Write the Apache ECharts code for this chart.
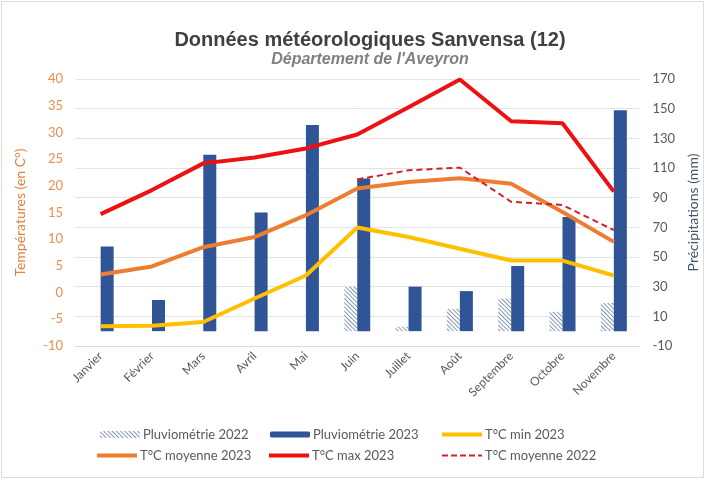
<!DOCTYPE html>
<html>
<head>
<meta charset="utf-8">
<script src="https://cdn.jsdelivr.net/npm/echarts@6/dist/echarts.min.js"></script>
<style>
  html, body { margin: 0; padding: 0; background: #fff; }
  #main { width: 708px; height: 481px; }
</style>
</head>
<body>
<div id="main"></div>
<script>
var months = ['Janvier', 'Février', 'Mars', 'Avril', 'Mai', 'Juin', 'Juillet', 'Août', 'Septembre', 'Octobre', 'Novembre'];
var pluvio2022 = [null, null, null, null, null, 30, 3, 15, 22, 13, 19];
var pluvio2023 = [57, 21, 119, 80, 139, 103, 30, 27, 44, 77, 149];
var tMin2023 = [-6.3, -6.2, -5.5, -1.1, 3.2, 12.2, 10.4, 8.2, 6, 6, 3.2];
var tMoy2023 = [3.4, 4.9, 8.5, 10.4, 14.5, 19.5, 20.7, 21.4, 20.4, 15.1, 9.5];
var tMax2023 = [14.7, 19.2, 24.2, 25.3, 27, 29.6, 34.7, 39.9, 32.1, 31.7, 18.9];
var tMoy2022 = [null, null, null, null, null, 21.2, 22.9, 23.4, 17, 16.4, 11.7];

var FONT = 'Lato';
var LINE_ICON = 'rect';
var DASH_ICON = 'path://M0,0h6v2h-6z M9,0h6v2h-6z M18,0h6v2h-6z M27,0h6v2h-6z M36,0h4v2h-4z';
var chart = echarts.init(document.getElementById('main'));

// one legend per item so each sits at its own spot
function legendAt(name, left, top, h, icon) {
    var lg = {
        data: [name],
        left: left,
        top: top,
        padding: 0,
        itemWidth: 40,
        itemHeight: h,
        itemGap: 4,
        textStyle: { color: '#595959', fontSize: 13, fontFamily: FONT, padding: [0, 0, 0, -2] }
    };
    if (icon) lg.icon = icon;
    return lg;
}

var option = {
    backgroundColor: '#fff',
    animation: false,
    title: {
        text: 'Données météorologiques Sanvensa (12)',
        subtext: "Département de l'Aveyron",
        left: 365,
        top: 25,
        textAlign: 'center',
        itemGap: 2,
        textStyle: { fontFamily: 'Liberation Sans', fontSize: 20, fontWeight: 'bold', color: '#404040' },
        subtextStyle: { fontFamily: 'Liberation Sans', fontSize: 16, fontWeight: 'bold', fontStyle: 'italic', color: '#808080' }
    },
    legend: [
        legendAt('Pluviométrie 2022', 100, 428, 7),
        legendAt('Pluviométrie 2023', 270, 428, 6),
        legendAt('T°C min 2023', 442, 428, 4, LINE_ICON),
        legendAt('T°C moyenne 2023', 97, 449, 4, LINE_ICON),
        legendAt('T°C max 2023', 269, 449, 4, LINE_ICON),
        legendAt('T°C moyenne 2022', 442, 449, 2, DASH_ICON)
    ],
    grid: { left: 75, right: 66, top: 79, bottom: 135 },
    xAxis: {
        type: 'category',
        data: months,
        axisLine: { onZero: false, lineStyle: { color: '#d9d9d9' } },
        axisTick: { show: false },
        axisLabel: { rotate: 45, color: '#595959', fontSize: 12, fontFamily: FONT, margin: 8 }
    },
    yAxis: [
        {
            type: 'value',
            min: -10,
            max: 40,
            interval: 5,
            name: 'Températures (en C°)',
            nameLocation: 'middle',
            nameGap: 48,
            nameTextStyle: { color: '#E2813D', fontSize: 14, fontFamily: FONT },
            splitLine: { show: false },
            axisLine: { show: false },
            axisLabel: { color: '#EB8F4E', fontSize: 13, fontFamily: FONT, margin: 12 }
        },
        {
            type: 'value',
            min: -10,
            max: 170,
            interval: 20,
            name: 'Précipitations (mm)',
            nameLocation: 'middle',
            nameGap: 46,
            nameTextStyle: { color: '#44546A', fontSize: 14, fontFamily: FONT },
            splitLine: { lineStyle: { color: '#e3e3e3' } },
            axisLine: { show: false },
            axisLabel: { color: '#595959', fontSize: 13, fontFamily: FONT, margin: 13 }
        }
    ],
    series: [
        {
            name: 'Pluviométrie 2022',
            type: 'bar',
            yAxisIndex: 1,
            barWidth: 13,
            barGap: '0%',
            data: pluvio2022,
            itemStyle: {
                color: '#ffffff',
                decal: {
                    symbol: 'rect',
                    symbolSize: 1,
                    dashArrayX: [1, 0],
                    dashArrayY: [1, 2],
                    rotation: Math.PI / 4,
                    color: '#8497B0'
                }
            }
        },
        {
            name: 'Pluviométrie 2023',
            type: 'bar',
            yAxisIndex: 1,
            barWidth: 13,
            data: pluvio2023,
            itemStyle: { color: '#2F5597' }
        },
        {
            name: 'T°C min 2023',
            type: 'line',
            data: tMin2023,
            symbol: 'none',
            lineStyle: { color: '#FFC000', width: 4 },
            itemStyle: { color: '#FFC000' }
        },
        {
            name: 'T°C moyenne 2023',
            type: 'line',
            data: tMoy2023,
            symbol: 'none',
            lineStyle: { color: '#ED7D31', width: 4 },
            itemStyle: { color: '#ED7D31' }
        },
        {
            name: 'T°C max 2023',
            type: 'line',
            data: tMax2023,
            symbol: 'none',
            lineStyle: { color: '#EE1111', width: 4 },
            itemStyle: { color: '#EE1111' }
        },
        {
            name: 'T°C moyenne 2022',
            type: 'line',
            data: tMoy2022,
            symbol: 'none',
            lineStyle: { color: '#D0202A', width: 2, type: [6, 4] },
            itemStyle: { color: '#D0202A' }
        }
    ],
    graphic: [
        {
            type: 'rect',
            shape: { x: 1.5, y: 1.5, width: 702, height: 476 },
            style: { fill: 'none', stroke: '#dcdcdc', lineWidth: 1 },
            silent: true
        }
    ]
};

chart.setOption(option);
</script>
</body>
</html>
